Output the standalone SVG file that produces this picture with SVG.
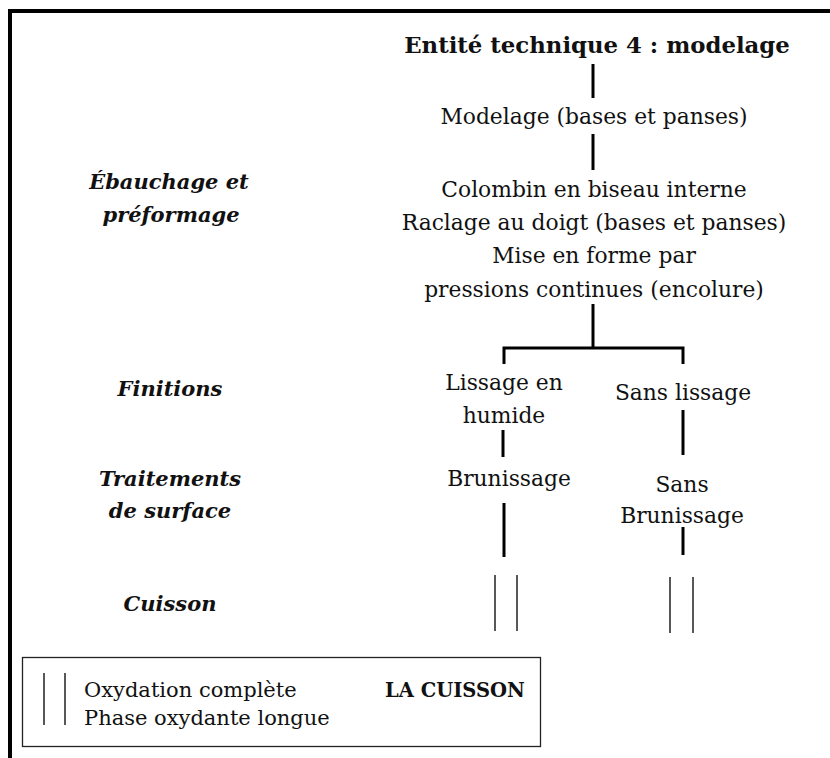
<svg xmlns="http://www.w3.org/2000/svg" width="830" height="758" viewBox="0 0 830 758">
<style>
text{font-family:"DejaVu Serif","Liberation Serif",serif;font-size:21.8px;fill:#111;text-anchor:middle}
.b{font-weight:bold}
.h{font-size:22.8px}
.bi{font-weight:bold;font-style:italic;font-size:21px}
.l{text-anchor:start}
.lg{font-size:21px}
.lc{font-size:19.5px}
.c{stroke:#000;stroke-width:3;fill:none}
.t{stroke:#222;stroke-width:1.5;fill:none}
</style>
<rect x="0" y="0" width="830" height="758" fill="#fff"/>
<path d="M10 758 V11 H830" fill="none" stroke="#000" stroke-width="4"/>
<g id="title"><text class="b h" x="597" y="53">Entité technique 4 : modelage</text></g>
<g id="modelage"><text x="594" y="124">Modelage (bases et panses)</text></g>
<g id="ebauchage"><text x="594" y="197">Colombin en biseau interne</text><text x="594" y="230">Raclage au doigt (bases et panses)</text><text x="594" y="263">Mise en forme par</text><text x="594" y="297">pressions continues (encolure)</text></g>
<g id="lissage"><text x="504" y="390">Lissage en</text><text x="504" y="423">humide</text></g>
<g id="sanslissage"><text x="683" y="400">Sans lissage</text></g>
<g id="brunissage"><text x="509" y="486">Brunissage</text></g>
<g id="sansbrunissage"><text x="682" y="492">Sans</text><text x="682" y="523">Brunissage</text></g>
<g id="lbl-ebauchage"><text class="bi" x="169" y="189">Ébauchage et</text><text class="bi" x="171" y="222">préformage</text></g>
<g id="lbl-finitions"><text class="bi" x="170" y="396">Finitions</text></g>
<g id="lbl-traitements"><text class="bi" x="170" y="486">Traitements</text><text class="bi" x="170" y="518">de surface</text></g>
<g id="lbl-cuisson"><text class="bi" x="170" y="611">Cuisson</text></g>
<g id="cuisson-1"><path class="t" d="M495 575 V631 M517 575 V631"/></g>
<g id="cuisson-2"><path class="t" d="M670 577 V633 M693 577 V633"/></g>
<g id="legend">
<rect x="22.5" y="657.5" width="518" height="89" fill="none" stroke="#222" stroke-width="1.3"/>
<path class="t" d="M44 673 V725 M65 673 V725"/>
<text class="l lg" x="84" y="697">Oxydation complète</text>
<text class="l lg" x="84" y="725">Phase oxydante longue</text>
<text class="b l lc" x="385" y="697">LA CUISSON</text>
</g>
<g id="connectors">
<path class="c" d="M593 64 V98"/>
<path class="c" d="M593 134 V170"/>
<path class="c" d="M593 304 V348"/>
<path class="c" d="M504 364 V348 H683 V364"/>
<path class="c" d="M503 430 V457"/>
<path class="c" d="M683 410 V455"/>
<path class="c" d="M504 503 V557"/>
<path class="c" d="M683 527 V555"/>
</g>
</svg>
